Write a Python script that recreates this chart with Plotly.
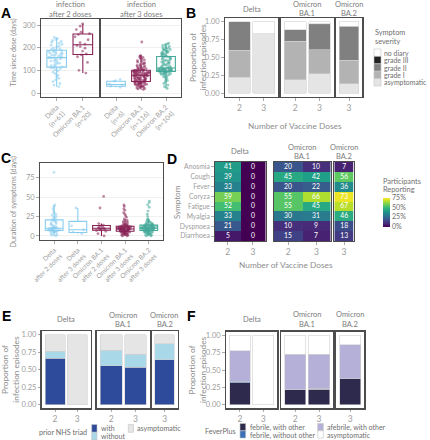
import plotly.graph_objects as go

W, H = 430, 440
FONT = "Lato"
TICK = "#9d9d9d"
TITLE = "#8e8e8e"
STRIP = "#7d7d7d"
LEG = "#6e6e6e"
BORDER = "#4d4d4d"
GRID = "#ededed"

C_DELTA, C_BA1, C_BA2 = "#88CCEE", "#882255", "#44AA99"

# ---------------- Panel A data: time since dose (days) ----------------
A_cats_2 = ["Delta<br>(n=61)", "Omicron BA.1<br>(n=20)"]
A_cats_3 = ["Delta<br>(n=6)", "Omicron BA.1<br>(n=116)", "Omicron BA.2<br>(n=104)"]
A_delta_2 = [28, 35, 42, 50, 58, 65, 72, 78, 85, 92, 98, 103, 107, 110, 112, 115, 118, 121, 125, 128,
             131, 135, 138, 141, 144, 147, 150, 152, 154, 155, 156, 158, 160, 162, 165, 167, 169, 171, 173, 175,
             177, 179, 181, 183, 186, 188, 190, 192, 195, 199, 203, 207, 211, 215, 219, 224, 228, 232, 236, 240, 245]
A_ba1_2 = [88, 100, 135, 160, 168, 172, 185, 198, 205, 210, 216, 222, 235, 248, 258, 262, 268, 280, 295, 305]
A_delta_3 = [25, 30, 35, 40, 52, 60]
A_ba1_3 = [15, 18, 20, 22, 24, 26, 28, 29, 30, 32, 33, 35, 36, 37, 38, 39, 40, 41, 42, 43, 44, 45, 46, 46, 47, 48, 48, 49, 50,
           51, 52, 53, 54, 55, 56, 57, 58, 59, 60, 61, 62, 63, 64, 65, 66, 67, 68, 69, 70, 71, 72, 73, 74, 75, 75, 76, 77, 78,
           79, 80, 80, 81, 82, 83, 84, 85, 85, 86, 87, 88, 88, 89, 90, 90, 91, 92, 93, 93, 94, 95, 96, 96, 97, 98, 98, 99, 100,
           101, 102, 103, 104, 105, 106, 108, 110, 112, 114, 116, 118, 120, 122, 125, 128, 130, 133, 136, 140, 143, 146, 150,
           153, 157, 160, 163, 165, 225]
A_ba2_3 = [20, 28, 35, 42, 50, 55, 60, 65, 70, 72, 75, 78, 80, 82, 84, 85, 86, 87, 88, 89, 90, 91, 92, 93, 94, 95,
           96, 96, 97, 97, 98, 98, 99, 99, 100, 100, 101, 101, 102, 102, 103, 103, 104, 104, 105, 105, 106, 107, 107, 108, 109, 110,
           111, 113, 115, 117, 119, 121, 123, 125, 127, 129, 131, 133, 135, 137, 139, 141, 143, 145, 147, 149, 151, 153, 155, 157, 158, 160,
           162, 164, 166, 168, 170, 172, 174, 176, 178, 180, 182, 184, 186, 188, 190, 192, 194, 196, 198, 200, 203, 206, 210, 213, 216, 220]
A_ticks = [0, 100, 200, 300]

# ---------------- Panel C data: duration of symptoms (days) ----------------
C_cats = ["Delta<br>after 2 doses", "Delta<br>after 3 doses", "Omicron BA.1<br>after 2 doses",
          "Omicron BA.1<br>after 3 doses", "Omicron BA.2<br>after 3 doses"]
C_delta_2 = [0, 1, 2, 3, 4, 5, 5, 6, 6, 6, 7, 7, 7, 8, 8, 8, 9, 9, 9, 9, 10, 10, 10, 10, 11, 11, 12, 13, 14, 15,
             16, 17, 18, 19, 20, 21, 22, 24, 25, 27, 28, 30, 32, 35, 38, 40, 82]
C_delta_3 = [3, 5, 8, 13, 36]
C_ba1_2 = [0, 3, 6, 7, 8, 9, 9, 10, 10, 11, 12, 13, 14, 16, 36, 51]
C_ba1_3 = [0, 0, 1, 1, 2, 2, 2, 3, 3, 3, 4, 4, 4, 5, 5, 5, 5, 6, 6, 6, 6,
           6, 6, 7, 7, 7, 7, 7, 8, 8, 8, 8, 8, 8, 9, 9, 9, 9, 9, 9, 9, 9,
           9, 10, 10, 10, 10, 10, 10, 10, 11, 11, 11, 11, 11, 11, 12, 12, 12, 12, 12, 12, 12,
           13, 13, 13, 14, 14, 15, 15, 16, 17, 18, 19, 20, 22, 24, 26, 28, 30, 33, 35, 38, 40]
C_ba2_3 = [0, 0, 1, 1, 2, 2, 3, 3, 3, 4, 4, 4, 5, 5, 5, 5, 6, 6, 6, 6, 7, 7,
           7, 7, 7, 8, 8, 8, 8, 8, 8, 9, 9, 9, 9, 9, 9, 9, 10, 10, 10, 10, 10, 10, 10,
           10, 10, 11, 11, 11, 11, 11, 11, 12, 12, 12, 12, 12, 12, 12, 13, 13, 13, 13, 13, 13, 13,
           14, 14, 14, 15, 15, 15, 16, 16, 17, 17, 18, 18, 19, 20, 21, 22, 25, 28, 32, 37, 40, 43, 45]
C_ticks = [0, 25, 50, 75]

# ---------------- Facets shared by B, D, E, F ----------------
FACETS = ["Delta", "Omicron<br>BA.1", "Omicron<br>BA.2"]
DOSES = [["2", "3"], ["2", "3"], ["3"]]
PROP_TICKS = [0, 0.25, 0.5, 0.75, 1.0]

# ---------------- Panel B data: symptom severity proportions ----------------
B_levels = ["asymptomatic", "grade I", "grade II", "grade III", "no diary"]
B_colors = ["#e5e5e5", "#b3b3b3", "#808080", "#222222", "#ffffff"]
B_asymptomatic = [[0.225, 0.836], [0.19, 0.27], [0.13]]
B_grade1 = [[0.375, None], [0.54, 0.34], [0.33]]
B_grade2 = [[0.40, None], [0.16, 0.35], [0.47]]
B_grade3 = [[None, None], [None, 0.012], [0.012]]
B_nodiary = [[None, 0.164], [0.11, 0.028], [0.058]]

# ---------------- Panel D data: % participants reporting ----------------
D_symptoms = ["Anosmia", "Cough", "Fever", "Coryza", "Fatigue", "Myalgia", "Dyspnoea", "Diarrhoea"]
D_delta_2 = [41, 39, 33, 59, 52, 33, 21, 5]
D_delta_3 = [0, 0, 0, 0, 0, 0, 0, 0]
D_ba1_2 = [20, 45, 20, 55, 55, 30, 10, 15]
D_ba1_3 = [10, 42, 22, 66, 45, 31, 9, 7]
D_ba2_3 = [7, 56, 36, 73, 67, 46, 18, 13]
D_ticks = [0, 25, 50, 75]
D_ticktext = ["0%", "25%", "50%", "75%"]

# ---------------- Panel E data: prior NHS triad ----------------
E_levels = ["with", "without", "asymptomatic"]
E_colors = ["#2e4b9b", "#a9d8e8", "#e5e5e5"]
E_with = [[0.665, None], [0.555, 0.536], [0.641]]
E_without = [[0.10, None], [0.22, 0.182], [0.23]]
E_asymptomatic = [[0.235, 1.0], [0.225, 0.282], [0.129]]

# ---------------- Panel F data: FeverPlus ----------------
F_levels = ["febrile, with other", "febrile, without other", "afebrile, with other", "asymptomatic"]
F_colors = ["#2d2a4e", "#3a6fb5", "#b5b0d8", "#ffffff"]
F_feb_with = [[0.315, None], [0.22, 0.225], [0.373]]
F_feb_without = [[0.02, None], [None, 0.006], [None]]
F_afeb_with = [[0.44, None], [0.507, 0.496], [0.488]]
F_asymptomatic = [[0.225, 1.0], [0.273, 0.273], [0.139]]

# =====================================================================
fig = go.Figure()
layout = {}
annotations = []
shapes = []
counter = [0]


def px_x(x):
    return x / W


def px_y(y):
    return 1 - y / H


def panel(x0, x1, y0, y1, xcfg=None, ycfg=None):
    counter[0] += 1
    n = counter[0]
    s = "" if n == 1 else str(n)
    base = dict(showline=True, mirror=True, linecolor=BORDER, linewidth=1.3, zeroline=False,
                showgrid=False, automargin=False, ticks="outside", ticklen=2.5, tickcolor="#aaaaaa",
                tickfont=dict(family=FONT, size=7.5, color=TICK), fixedrange=True)
    xa = dict(base, domain=[px_x(x0), px_x(x1)], anchor="y" + s)
    ya = dict(base, domain=[px_y(y1), px_y(y0)], anchor="x" + s)
    if xcfg:
        xa.update(xcfg)
    if ycfg:
        ya.update(ycfg)
    layout["xaxis" + s] = xa
    layout["yaxis" + s] = ya
    return "x" + s, "y" + s


def ann(x, y, text, size=8, color=TITLE, xanchor="center", yanchor="middle", angle=0, family=FONT, align="center"):
    annotations.append(dict(x=px_x(x), y=px_y(y), xref="paper", yref="paper", text=text, showarrow=False,
                            font=dict(family=family, size=size, color=color), xanchor=xanchor,
                            yanchor=yanchor, textangle=angle, align=align, borderpad=0))


def strip(xc, yc, text, size=7.5, spacing=9.3):
    lines = text.split("<br>")
    n = len(lines)
    for k, line in enumerate(lines):
        ann(xc, yc + (k - (n - 1) / 2) * spacing, line, size=size, color=STRIP)


def key(x0, y0, x1, y1, color):
    shapes.append(dict(type="rect", xref="paper", yref="paper", x0=px_x(x0), x1=px_x(x1),
                       y0=px_y(y1), y1=px_y(y0), fillcolor=color, line=dict(color="#c4c4c4", width=0.6)))


def box(xa, ya, cat, vals, color):
    fig.add_trace(go.Box(x=[cat] * len(vals), y=vals, xaxis=xa, yaxis=ya, boxpoints="all", jitter=0.85,
                         pointpos=0, width=0.75, whiskerwidth=0,
                         marker=dict(color=color, size=2.8, opacity=0.55),
                         line=dict(color=color, width=1.1), fillcolor="rgba(255,255,255,0)",
                         showlegend=False, hoverinfo="skip"))


# ---------------- Panel A ----------------
ycfgA = dict(range=[-17.6, 326.5], tickvals=A_ticks, showgrid=True, gridcolor=GRID, gridwidth=0.8,
             tickfont=dict(family=FONT, size=7.5, color=TICK))
xcfgA = dict(type="category", tickangle=-45, tickfont=dict(family=FONT, size=6.8, color=TICK))
xa, ya = panel(41, 98.5, 19, 97, dict(xcfgA, categoryorder="array", categoryarray=A_cats_2, range=[-0.6, 1.6]), ycfgA)
box(xa, ya, A_cats_2[0], A_delta_2, C_DELTA)
box(xa, ya, A_cats_2[1], A_ba1_2, C_BA1)
xa, ya = panel(101, 181, 19, 97, dict(xcfgA, categoryorder="array", categoryarray=A_cats_3, range=[-0.6, 2.6]),
               dict(ycfgA, showticklabels=False, ticks=""))
box(xa, ya, A_cats_3[0], A_delta_3, C_DELTA)
box(xa, ya, A_cats_3[1], A_ba1_3, C_BA1)
box(xa, ya, A_cats_3[2], A_ba2_3, C_BA2)
strip(70, 9.4, "infection<br>after 2 doses")
strip(141, 9.4, "infection<br>after 3 doses")
ann(12.5, 53, "Time since dose (days)", size=7, angle=-90)

# ---------------- Panel C ----------------
xa, ya = panel(40, 163, 163, 240,
               dict(xcfgA, categoryorder="array", categoryarray=C_cats, range=[-0.6, 4.6],
                    tickfont=dict(family=FONT, size=6.5, color=TICK)),
               dict(range=[-5.2, 94], tickvals=C_ticks, showgrid=True, gridcolor=GRID, gridwidth=0.8))
for cat, vals, col in zip(C_cats, [C_delta_2, C_delta_3, C_ba1_2, C_ba1_3, C_ba2_3],
                          [C_DELTA, C_DELTA, C_BA1, C_BA1, C_BA2]):
    box(xa, ya, cat, vals, col)
ann(12.5, 202, "Duration of symptoms (days)", size=7.3, angle=-90)


# ---------------- stacked-bar facet helper ----------------
def bar_facets(xpos, y0, y1, series, colors, ytitle_x, strip_y):
    for i, (fx0, fx1) in enumerate(xpos):
        cats = DOSES[i]
        rng = [-0.6, len(cats) - 0.4]
        ycfg = dict(range=[-0.05, 1.05], tickvals=PROP_TICKS, tickformat=".2f")
        if i > 0:
            ycfg.update(showticklabels=False, ticks="")
        xa, ya = panel(fx0, fx1, y0, y1, dict(type="category", range=rng, categoryorder="array",
                                              categoryarray=cats,
                                              tickfont=dict(family=FONT, size=8.5, color=TICK)), ycfg)
        for vals, col in zip(series, colors):
            fig.add_trace(go.Bar(x=cats, y=vals[i], xaxis=xa, yaxis=ya, width=0.9,
                                 marker=dict(color=col, line=dict(color="#d0d0d0", width=0.6)),
                                 showlegend=False, hoverinfo="skip"))
        strip((fx0 + fx1) / 2, strip_y, FACETS[i])
    ann(ytitle_x, (y0 + y1) / 2, "Proportion of<br>infection episodes", size=8.3, angle=-90)


# ---------------- Panel B ----------------
bar_facets([(225, 278.3), (280.7, 334), (335.7, 362.3)], 18.3, 96.7,
           [B_asymptomatic, B_grade1, B_grade2, B_grade3, B_nodiary], B_colors, 198, 9.2)
ann(295, 126, "Number of Vaccine Doses", size=8.3)
ann(373.5, 33, "Symptom", size=7.3, color=LEG, xanchor="left")
ann(373.5, 41.5, "severity", size=7.3, color=LEG, xanchor="left")
for j, (lab, col) in enumerate(zip(B_levels[::-1], B_colors[::-1])):
    yt = 49 + j * 7.4
    key(374, yt, 381, yt + 7.4, col)
    ann(382.5, yt + 3.8, lab, size=6.9, color=LEG, xanchor="left")

# ---------------- Panel D ----------------
D_cols = [[D_delta_2, D_delta_3], [D_ba1_2, D_ba1_3], [D_ba2_3]]
D_xpos = [(215, 265.5), (274, 330.5), (334.3, 353.7)]
for i, (fx0, fx1) in enumerate(D_xpos):
    cats = DOSES[i]
    z = [list(row) for row in zip(*D_cols[i])]
    ycfg = dict(type="category", categoryorder="array", categoryarray=D_symptoms, autorange=False,
                range=[7.5, -0.5], tickmode="array", tickvals=D_symptoms,
                tickfont=dict(family=FONT, size=6.8, color=TICK))
    if i > 0:
        ycfg.update(showticklabels=False, ticks="")
    xa, ya = panel(fx0, fx1, 162, 241, dict(type="category", range=[-0.5, len(cats) - 0.5],
                                            tickfont=dict(family=FONT, size=8.5, color=TICK)), ycfg)
    fig.add_trace(go.Heatmap(x=cats, y=D_symptoms, z=z, xaxis=xa, yaxis=ya, coloraxis="coloraxis",
                             texttemplate="%{z}", textfont=dict(family=FONT, size=6.8, color="white"),
                             xgap=0, ygap=0, hoverinfo="skip"))
    strip((fx0 + fx1) / 2, 151.7, FACETS[i])
ann(177, 202, "Symptom", size=8, angle=-90)
ann(286, 265, "Number of Vaccine Doses", size=8.3)
ann(382, 181, "Participants", size=7.3, color=LEG, xanchor="left")
ann(382, 189.3, "Reporting", size=7.3, color=LEG, xanchor="left")
layout["coloraxis"] = dict(colorscale="Viridis", cmin=0, cmax=75,
                           colorbar=dict(x=px_x(383), xanchor="left", y=px_y(212), yanchor="middle",
                                         len=29, lenmode="pixels", thickness=7, thicknessmode="pixels",
                                         tickvals=D_ticks, ticktext=D_ticktext, ticks="", outlinewidth=0,
                                         xpad=0, ypad=0, tickfont=dict(family=FONT, size=7.1, color=LEG)))

# ---------------- Panel E ----------------
bar_facets([(41.7, 90.7), (96.7, 150), (151.7, 177.7)], 331, 408.3,
           [E_with, E_without, E_asymptomatic], E_colors, 11, 319.7)
ann(88, 432.3, "prior NHS triad", size=7.2, color=LEG, xanchor="right")
key(91.7, 424.5, 97, 432.3, E_colors[0])
key(91.7, 432.3, 97, 440, E_colors[1])
ann(99.5, 427.8, "with", size=7.0, color=LEG, xanchor="left")
ann(99.5, 435.8, "without", size=7.0, color=LEG, xanchor="left")
key(128.3, 424.5, 133.5, 432.3, E_colors[2])
ann(136, 428.2, "asymptomatic", size=7.1, color=LEG, xanchor="left")

# ---------------- Panel F ----------------
bar_facets([(226, 277.3), (281, 333.3), (336, 364.3)], 331.7, 408.3,
           [F_feb_with, F_feb_without, F_afeb_with, F_asymptomatic], F_colors, 197, 319.6)
ann(237, 431, "FeverPlus", size=7.2, color=LEG, xanchor="right")
key(240, 423.5, 245.7, 430.8, F_colors[0])
key(240, 430.8, 245.7, 438, F_colors[1])
ann(248.5, 427.4, F_levels[0], size=7.0, color=LEG, xanchor="left")
ann(248.5, 435, F_levels[1], size=7.0, color=LEG, xanchor="left")
key(317.7, 423.5, 323.3, 430.8, F_colors[2])
key(317.7, 430.8, 323.3, 438, F_colors[3])
ann(326.2, 427.4, F_levels[2], size=7.0, color=LEG, xanchor="left")
ann(326.2, 435, F_levels[3], size=7.0, color=LEG, xanchor="left")

# ---------------- panel letters ----------------
for letter, (lx, ly) in zip("ABCDEF", [(6, 13.5), (191, 13.5), (5.5, 158), (171.5, 159), (6, 315.5), (191.5, 315.5)]):
    ann(lx, ly, "<b>%s</b>" % letter, size=14, color="#000000", family="Liberation Sans")

layout.update(dict(width=W, height=H, margin=dict(l=0, r=0, t=0, b=0, autoexpand=False),
                   paper_bgcolor="white", plot_bgcolor="white", showlegend=False,
                   barmode="stack", boxmode="overlay", bargap=0.1, hovermode=False,
                   annotations=annotations, shapes=shapes,
                   font=dict(family=FONT, color=TITLE)))
fig.update_layout(**layout)
fig.write_html("out.html", config={"displayModeBar": False, "staticPlot": True},
               post_script="document.body.style.margin='0px';document.body.style.overflow='hidden';")
